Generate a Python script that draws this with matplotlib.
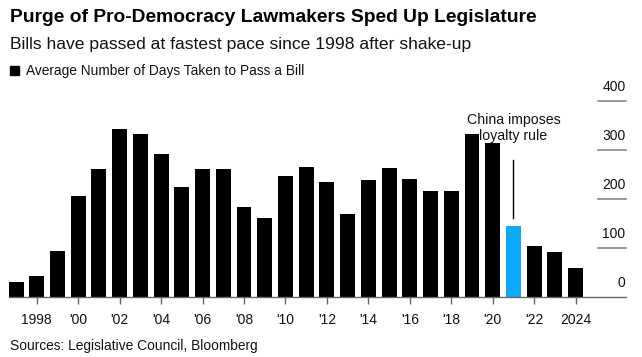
import numpy as np
import matplotlib.pyplot as plt

plt.rcParams['font.family'] = ['Liberation Sans', 'DejaVu Sans']

years = list(range(1997, 2025))
days = [29, 42, 93, 205, 261, 342, 332, 291, 224, 261, 261, 183, 160, 246,
        265, 234, 168, 238, 262, 240, 215, 215, 332, 314, 144, 104, 91, 59]
tick_years = list(range(1998, 2025, 2))
tick_labels = ["1998"] + ["'%02d" % (y % 100) for y in tick_years[1:-1]] + ["2024"]
y_ticks = [0, 100, 200, 300, 400]
highlight = 2021

W, H = 642, 357
fig = plt.figure(figsize=(W / 100, H / 100), dpi=100)

# axes: x from 9px to 626px, y from 296.7px (0) to 100.7px (400)
ax = fig.add_axes([9 / W, (H - 296.7) / H, (626 - 9) / W, 196 / H])
ax.set_xlim(1996.66, 2026.43)
ax.set_ylim(0, 400)

colors = ['#0aa9ff' if y == highlight else 'black' for y in years]
ax.bar(years, days, width=0.72, color=colors, zorder=2)

for s in ['top', 'right', 'left']:
    ax.spines[s].set_visible(False)
ax.spines['bottom'].set_color('#666666')
ax.spines['bottom'].set_linewidth(1)

ax.set_xticks(tick_years)
ax.set_xticklabels(tick_labels, fontsize=10, color='#111111')
ax.tick_params(axis='x', direction='out', length=5, width=1, color='#666666', pad=7)
ax.set_yticks([])

# short gridlines and labels on right
for v in y_ticks:
    if v > 0:
        ax.plot([2025.06, 2026.43], [v, v], color='#888888', lw=1.2, clip_on=False)
    ax.text(2026.4, v + 27, str(v), ha='right', va='center', fontsize=10, color='#111111')

# annotation
ax.plot([highlight, highlight], [161, 279], color='black', lw=1)
ax.text(highlight, 344, "China imposes\nloyalty rule", ha='center', va='center',
        fontsize=10.2, color='#111111', linespacing=1.15)

fig.text(10 / W, 1 - 18 / H, "Purge of Pro-Democracy Lawmakers Sped Up Legislature",
         fontsize=13.9, fontweight='bold', va='center', ha='left')
fig.text(10 / W, 1 - 45 / H, "Bills have passed at fastest pace since 1998 after shake-up",
         fontsize=12.6, va='center', ha='left', color='#111111')
fig.patches.append(plt.Rectangle((10 / W, 1 - 75 / H), 9 / W, 9 / H, transform=fig.transFigure,
                                 color='black'))
fig.text(26 / W, 1 - 70.5 / H, "Average Number of Days Taken to Pass a Bill",
         fontsize=9.9, va='center', ha='left', color='#111111')
fig.text(10 / W, 1 - 346 / H, "Sources: Legislative Council, Bloomberg",
         fontsize=9.9, va='center', ha='left', color='#111111')

fig.savefig('out.png', dpi=100)
